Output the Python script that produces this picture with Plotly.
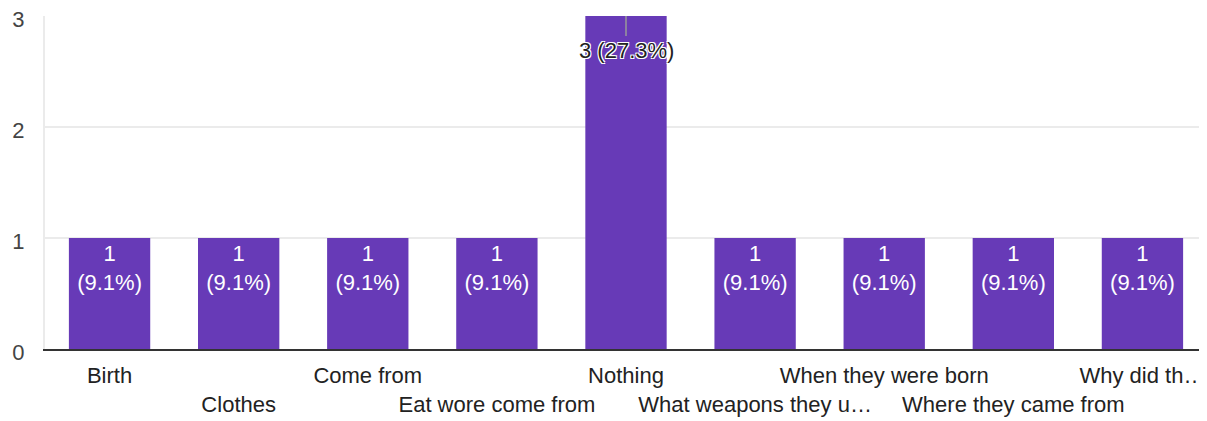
import plotly.graph_objects as go

categories = ["Birth", "Clothes", "Come from", "Eat wore come from", "Nothing",
              "What weapons they u…", "When they were born", "Where they came from", "Why did th…"]
values = [1, 1, 1, 1, 3, 1, 1, 1, 1]
y_ticks = [0, 1, 2, 3]

total = sum(values)
inside_text = [f"{v}<br>({v/total:.1%})" if v < max(values) else "" for v in values]
ticktext = [c if i % 2 == 0 else "<br>" + c for i, c in enumerate(categories)]

FONT = "Liberation Sans, Arial, sans-serif"
PURPLE = "#673AB7"

fig = go.Figure()
fig.add_trace(go.Bar(
    x=categories, y=values, marker=dict(color=PURPLE, line=dict(width=0)),
    text=inside_text, textposition="inside", insidetextanchor="end",
    constraintext="none", textfont=dict(color="white", size=22, family=FONT),
    cliponaxis=False, hoverinfo="skip",
))

imax = values.index(max(values))
fig.add_annotation(
    x=categories[imax], y=values[imax], xref="x", yref="y",
    text=f"{values[imax]} ({values[imax]/total:.1%})",
    showarrow=True, arrowhead=0, arrowwidth=1.5, arrowcolor="#999999",
    ax=0, ay=34, standoff=0, startstandoff=0,
    font=dict(size=22, color="#222222", family=FONT,
              shadow="1px 1px 0 white, -1px -1px 0 white, 1px -1px 0 white, -1px 1px 0 white"),
)

# page body has an 8px default margin: size the figure so the plot lands where the reference has it
fig.update_layout(
    width=1199, height=413,
    margin=dict(l=37, r=0, t=8, b=72),
    paper_bgcolor="white", plot_bgcolor="white",
    bargap=0.37, showlegend=False,
    font=dict(family=FONT, size=22, color="#333333"),
    xaxis=dict(
        tickmode="array", tickvals=categories, ticktext=ticktext, tickangle=0,
        automargin=False, ticklabeloverflow="allow", ticklabelstandoff=6,
        showgrid=False, showline=True, linecolor="#333333", linewidth=2,
        ticks="", tickfont=dict(size=22, color="#222222"), fixedrange=True,
    ),
    yaxis=dict(
        range=[0, 3], tickvals=y_ticks, showgrid=True, gridcolor="#ebebeb", gridwidth=2,
        zeroline=False, showline=True, linecolor="#ebebeb", linewidth=2, automargin=False,
        ticklabeloverflow="allow", ticklabelshift=3,
        ticks="", ticklabelstandoff=14, tickfont=dict(size=22, color="#444444"),
    ),
)

fig.write_html("out.html")
